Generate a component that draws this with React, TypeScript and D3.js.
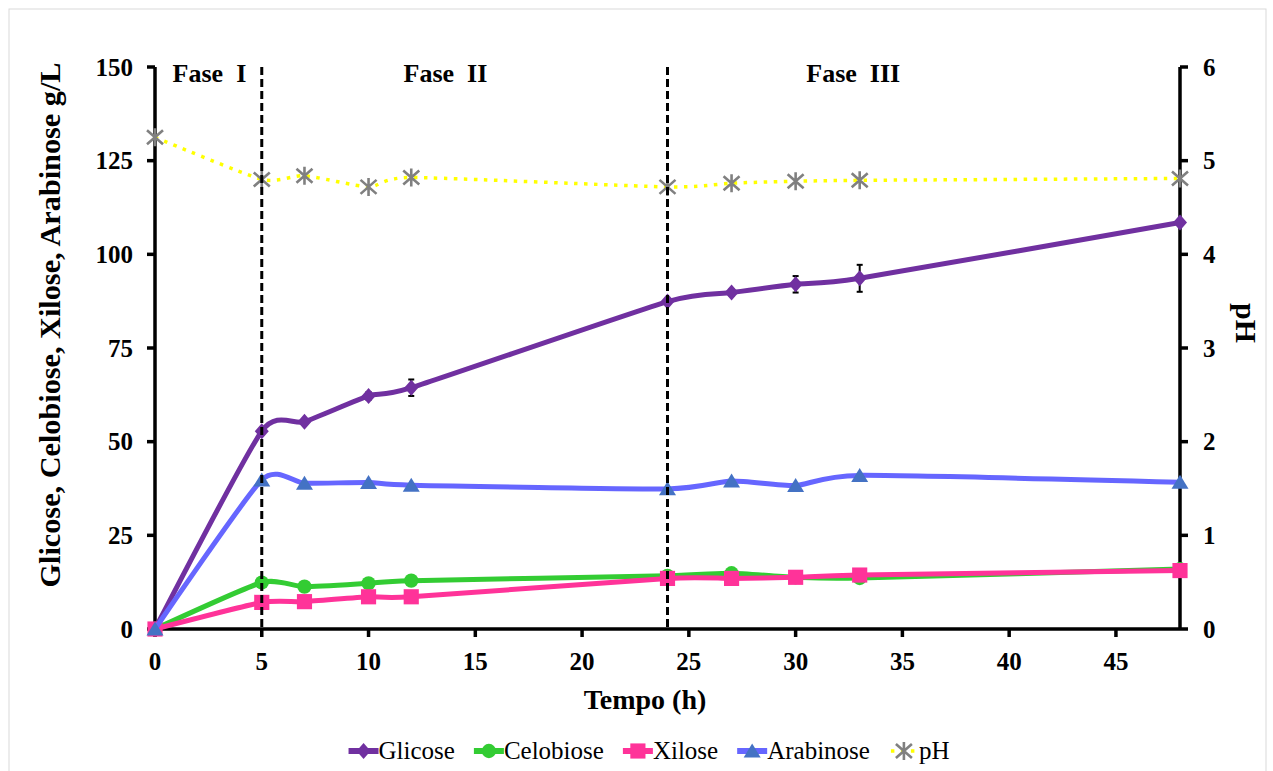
import * as d3 from 'd3'

// tempo de coleta (h) e concentrações
const tempo = [0, 5, 7, 10, 12, 24, 27, 30, 33, 48]
const glicose = [0, 52.8, 55.3, 62.2, 64.4, 87.4, 89.8, 92.0, 93.6, 108.5]
const glicoseErro = [0, 0, 0.6, 1.0, 2.2, 0, 0.8, 2.2, 3.6, 0]
const celobiose = [0, 12.4, 11.3, 12.2, 12.9, 14.2, 14.9, 13.8, 13.6, 16.0]
const xilose = [0, 7.1, 7.3, 8.6, 8.6, 13.5, 13.5, 13.8, 14.4, 15.6]
const arabinose = [0, 39.8, 38.9, 39.1, 38.4, 37.4, 39.5, 38.3, 41.0, 39.2]
const ph = [5.25, 4.8, 4.84, 4.72, 4.82, 4.72, 4.76, 4.78, 4.79, 4.81]

const xTicks = [0, 5, 10, 15, 20, 25, 30, 35, 40, 45]
const yTicks = [0, 25, 50, 75, 100, 125, 150]
const phTicks = [0, 1, 2, 3, 4, 5, 6]
const fases = ['Fase  I', 'Fase  II', 'Fase  III']
const faseLabelX = [2.55, 13.6, 32.7]
const faseLimites = [5, 24]

const W = 1273, H = 771
const FONT = "'Liberation Serif', 'Times New Roman', serif"

const x = d3.scaleLinear().domain([0, 48]).range([155, 1180])
const y = d3.scaleLinear().domain([0, 150]).range([629, 67])
const yPh = d3.scaleLinear().domain([0, 6]).range([629, 67])

// linhas suavizadas (parecido com o "smooth line" do Excel)
const curve = d3.curveCardinal.tension(0.4)

type Marker = 'diamond' | 'circle' | 'square' | 'triangle' | 'star'

function markerPath(kind: Marker): string {
  if (kind === 'diamond') return 'M0,-8L7,0L0,8L-7,0Z'
  if (kind === 'circle') return d3.symbol(d3.symbolCircle, 160)()!
  if (kind === 'square') return d3.symbol(d3.symbolSquare, 230)()!
  if (kind === 'triangle') return 'M0,-7.5L8.5,6.5L-8.5,6.5Z'
  return 'M-8,-7L8,7M-8,7L8,-7M0,-9L0,9'
}

const series = [
  { name: 'Glicose', values: glicose, line: '#7030A0', fill: '#7030A0', marker: 'diamond' as Marker, err: glicoseErro },
  { name: 'Celobiose', values: celobiose, line: '#33CC33', fill: '#33CC33', marker: 'circle' as Marker },
  { name: 'Xilose', values: xilose, line: '#FF3399', fill: '#FF3399', marker: 'square' as Marker },
  { name: 'Arabinose', values: arabinose, line: '#6666FF', fill: '#4472C4', marker: 'triangle' as Marker },
]

function Sym({ kind, color, cx, cy }: { kind: Marker; color: string; cx: number; cy: number }) {
  if (kind === 'star')
    return <path d={markerPath(kind)} transform={`translate(${cx},${cy})`} fill="none" stroke="#808080" strokeWidth={2.6} />
  return <path d={markerPath(kind)} transform={`translate(${cx},${cy})`} fill={color} />
}

function textWidth(s: string, font: string) {
  const c = document.createElement('canvas').getContext('2d')!
  c.font = font
  return c.measureText(s).width
}

export default function App() {
  const line = d3.line<number>().x((_, i) => x(tempo[i])).y(d => y(d)).curve(curve)
  const linePh = d3.line<number>().x((_, i) => x(tempo[i])).y(d => yPh(d)).curve(curve)

  // legenda centrada embaixo
  const legFont = `25px ${FONT}`
  const legItems = [...series.map(s => ({ name: s.name, line: s.line, fill: s.fill, marker: s.marker })),
    { name: 'pH', line: '#FFFF00', fill: '#808080', marker: 'star' as Marker }]
  const symW = 30, gap = 19
  const widths = legItems.map(it => symW + textWidth(it.name, legFont))
  const total = d3.sum(widths) + gap * (legItems.length - 1)
  let lx = 649 - total / 2
  const legPos = widths.map(w => { const p = lx; lx += w + gap; return p })
  const legY = 751

  return (
    <svg width={W} height={H} style={{ position: 'absolute', left: 0, top: 0, background: '#fff' }} fontFamily={FONT}>
      <rect x={9} y={9} width={1257} height={770} fill="#fff" stroke="#d9d9d9" strokeWidth={1} />

      {/* eixos */}
      <g stroke="#000" strokeWidth={3.5}>
        <line x1={155} x2={155} y1={y(150)} y2={629} />
        <line x1={1180} x2={1180} y1={y(150)} y2={629} />
        <line x1={155} x2={1180} y1={629} y2={629} />
        {yTicks.map(t => <line key={'yl' + t} x1={147} x2={155} y1={y(t)} y2={y(t)} />)}
        {phTicks.map(t => <line key={'yr' + t} x1={1180} x2={1188} y1={yPh(t)} y2={yPh(t)} />)}
        {xTicks.map(t => <line key={'xt' + t} x1={x(t)} x2={x(t)} y1={629} y2={637} />)}
      </g>
      <g fontWeight="bold" fontSize={25} fill="#000">
        {yTicks.map(t => <text key={'yl' + t} x={133} y={y(t)} dy="0.35em" textAnchor="end">{t}</text>)}
        {phTicks.map(t => <text key={'yr' + t} x={1203} y={yPh(t)} dy="0.35em">{t}</text>)}
        {xTicks.map(t => <text key={'xt' + t} x={x(t)} y={670} textAnchor="middle">{t}</text>)}
      </g>
      <text x={645} y={709} textAnchor="middle" fontWeight="bold" fontSize={28}>Tempo (h)</text>
      <text transform={`translate(60,${325}) rotate(-90)`} textAnchor="middle" fontWeight="bold" fontSize={29}
        textLength={525} lengthAdjust="spacingAndGlyphs">
        Glicose, Celobiose, Xilose, Arabinose g/L
      </text>
      <text transform={`translate(1236,${323}) rotate(90)`} textAnchor="middle" fontWeight="bold" fontSize={30}>pH</text>

      {/* séries */}
      {series.map(s => (
        <g key={s.name}>
          <path d={line(s.values)!} fill="none" stroke={s.line} strokeWidth={5} strokeLinejoin="round" />
          {s.err && s.err.map((e, i) => e > 0 && (
            <g key={i} stroke="#000" strokeWidth={2}>
              <line x1={x(tempo[i])} x2={x(tempo[i])} y1={y(s.values[i] - e)} y2={y(s.values[i] + e)} />
              <line x1={x(tempo[i]) - 3} x2={x(tempo[i]) + 3} y1={y(s.values[i] - e)} y2={y(s.values[i] - e)} />
              <line x1={x(tempo[i]) - 3} x2={x(tempo[i]) + 3} y1={y(s.values[i] + e)} y2={y(s.values[i] + e)} />
            </g>
          ))}
          {s.values.map((v, i) => <Sym key={i} kind={s.marker} color={s.fill} cx={x(tempo[i])} cy={y(v)} />)}
        </g>
      ))}
      <path d={linePh(ph)!} fill="none" stroke="#FFFF00" strokeWidth={3.5} strokeDasharray="3.5,6.5" />
      {ph.map((v, i) => <Sym key={'ph' + i} kind="star" color="#808080" cx={x(tempo[i])} cy={yPh(v)} />)}

      {/* fases */}
      {faseLimites.map(f => (
        <line key={f} x1={x(f)} x2={x(f)} y1={y(150)} y2={629} stroke="#000" strokeWidth={3} strokeDasharray="8,4" />
      ))}
      {fases.map((f, i) => (
        <text key={f} x={x(faseLabelX[i])} y={82} textAnchor="middle" fontWeight="bold" fontSize={26}
          style={{ whiteSpace: 'pre' }}>{f}</text>
      ))}

      {/* legenda */}
      {legItems.map((it, i) => {
        const x0 = legPos[i]
        return (
          <g key={it.name}>
            {it.marker === 'star'
              ? <line x1={x0 + 2} x2={x0 + symW} y1={legY} y2={legY} stroke="#FFFF00" strokeWidth={3.5} strokeDasharray="3.5,6.5" />
              : <line x1={x0} x2={x0 + symW} y1={legY} y2={legY} stroke={it.line} strokeWidth={6} />}
            <Sym kind={it.marker} color={it.fill} cx={x0 + symW / 2} cy={legY} />
            <text x={x0 + symW} y={legY + 8} fontSize={25}>{it.name}</text>
          </g>
        )
      })}
    </svg>
  )
}
